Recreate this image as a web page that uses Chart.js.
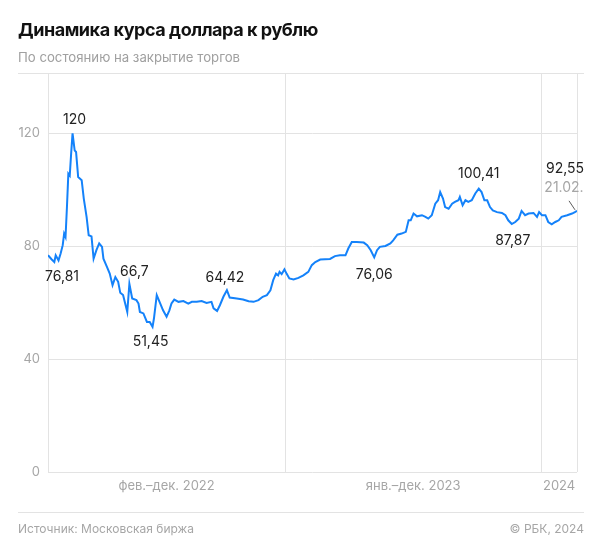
<!DOCTYPE html>
<html lang="ru">
<head>
<meta charset="utf-8">
<title>Динамика курса доллара к рублю</title>
<script src="https://cdn.jsdelivr.net/npm/chart.js@4.4.1/dist/chart.umd.min.js"></script>
<style>
  body { margin: 0; background: #fff; font-family: "Inter", "Roboto", sans-serif; }
  #wrap { position: relative; width: 600px; height: 555px; overflow: hidden; }
  #wrap canvas { position: absolute; left: 0; top: 0; }
  .title { position: absolute; left: 18px; top: 19px; font-size: 18px; line-height: 22px; font-weight: 700; color: #111; letter-spacing: -0.45px; }
  .sub { position: absolute; left: 18px; top: 49px; font-size: 13.2px; line-height: 16px; color: #a0a0a0; }
  .rule { position: absolute; left: 18px; width: 566px; height: 1px; background: #e3e3e3; }
  .foot { position: absolute; top: 521px; font-size: 12px; line-height: 15px; color: #a6a6a6; }
</style>
</head>
<body>
<div id="wrap">
  <canvas id="chart" width="600" height="555"></canvas>
  <div class="title">Динамика курса доллара к рублю</div>
  <div class="sub">По состоянию на закрытие торгов</div>
  <div class="rule" style="top:73px"></div>
  <div class="rule" style="top:512px"></div>
  <div class="foot" style="left:18px">Источник: Московская биржа</div>
  <div class="foot" style="right:16px">© РБК, 2024</div>
</div>
<script>
// дни с 01.01.2022
const days = [
  27, 32, 36, 38, 42, 45, 48, 50, 52, 54, 56, 58, 60, 62, 65, 67, 70, 75, 78, 82,
  85, 89, 92, 96, 100, 104, 106, 111, 115, 119, 123, 127, 130, 134, 137, 140, 143, 147, 153, 156,
  158, 163, 168, 172, 176, 178, 182, 186, 191, 196, 200, 203, 207, 213, 220, 227, 232, 239, 246, 253,
  260, 263, 268, 272, 277, 282, 286, 296, 305, 313, 320, 327, 333, 339, 344, 348, 352, 355, 357, 360,
  364, 367, 371, 377, 384, 391, 398, 403, 408, 415, 422, 429, 436, 443, 451, 455, 460, 467, 477, 482,
  487, 492, 496, 500, 508, 515, 519, 525, 531, 537, 541, 544, 548, 553, 560, 565, 569, 574, 579, 583,
  586, 590, 593, 598, 603, 607, 612, 614, 618, 622, 626, 631, 636, 641, 645, 649, 653, 657, 661, 667,
  674, 679, 683, 688, 693, 698, 702, 707, 712, 719, 724, 727, 731, 736, 740, 745, 750, 755, 759, 767,
  774, 778, 781
];
const usdRub = [
  76.81, 75.4, 74.4, 76.8, 75.0, 77.4, 80.4, 84.5, 83.3, 93.9, 105.7, 105.0, 112.9, 120.0, 114.0, 113.4, 104.5, 103.4, 96.9, 90.4,
  83.9, 83.5, 75.6, 78.6, 81.0, 79.8, 75.6, 72.7, 70.3, 66.2, 69.1, 67.4, 63.5, 62.7, 59.7, 56.7, 66.7, 61.5, 60.9, 59.7,
  56.7, 56.2, 53.2, 53.2, 51.45, 54.4, 62.7, 60.3, 57.3, 55.0, 57.3, 59.7, 61.1, 60.3, 60.6, 59.7, 60.3, 60.3, 60.6, 59.9,
  60.3, 58.0, 57.1, 59.1, 62.1, 64.42, 61.8, 61.5, 61.1, 60.5, 60.3, 60.9, 62.1, 62.7, 64.4, 68.0, 70.3, 69.7, 70.9, 70.1,
  71.8, 70.3, 68.6, 68.2, 68.8, 69.7, 70.9, 73.3, 74.4, 75.3, 75.4, 75.5, 76.5, 76.8, 76.8, 79.2, 81.5, 81.5, 81.3, 80.4,
  78.6, 76.06, 78.6, 79.8, 80.1, 81.0, 82.1, 84.1, 84.5, 85.1, 89.2, 89.2, 91.6, 90.6, 91.0, 90.4, 89.8, 91.0, 95.1, 96.3,
  99.2, 96.9, 93.9, 93.3, 95.1, 95.7, 96.3, 97.5, 94.5, 96.3, 95.7, 96.3, 98.7, 100.41, 99.2, 96.3, 96.3, 93.9, 92.7, 92.1,
  91.8, 91.0, 89.2, 87.87, 88.6, 89.8, 92.5, 91.0, 91.6, 91.8, 90.4, 92.1, 91.0, 91.0, 88.6, 87.8, 88.6, 89.2, 90.4, 91.0,
  91.6, 92.1, 92.55
];

// подписи периодов и их границы
const periodLabels = ["фев.–дек. 2022", "янв.–дек. 2023", "2024"];
const periodBounds = ["2022-01-28", "2023-01-01", "2024-01-01", "2024-02-21"];
const yTicks = [0, 40, 80, 120];

// подписанные точки
const markDays = [62, 27, 143, 176, 282, 492, 641, 688, 781];
const markTexts = ["120", "76,81", "66,7", "51,45", "64,42", "76,06", "100,41", "87,87", "92,55"];
const lastDateText = "21.02.";

// смещения подписей от точек (px)
const markOffsets = [[2, -14], [14, 22], [5, -12], [-2, 15], [-2, -12], [0, 17], [0, -15], [1, 17], [-12, -42]];

function dayOf(s) {
  return Math.round((Date.parse(s) - Date.UTC(2022, 0, 1)) / 86400000);
}
const boundDays = periodBounds.map(dayOf);

const FONT = '"Inter", "Roboto", sans-serif';

const labelsPlugin = {
  id: "labels",
  afterDraw(chart) {
    const ctx = chart.ctx;
    const xs = chart.scales.x, ys = chart.scales.y;
    ctx.save();
    // подписи периодов по оси X
    ctx.font = "13px " + FONT;
    ctx.fillStyle = "#a6a6a6";
    ctx.textAlign = "center";
    ctx.textBaseline = "middle";
    periodLabels.forEach((t, i) => {
      const x = (xs.getPixelForValue(boundDays[i]) + xs.getPixelForValue(boundDays[i + 1])) / 2;
      ctx.fillText(t, x, 486);
    });
    // значения
    ctx.font = "14px " + FONT;
    ctx.fillStyle = "#222";
    markDays.forEach((d, i) => {
      const v = usdRub[days.indexOf(d)];
      const px = xs.getPixelForValue(d) + markOffsets[i][0];
      const py = ys.getPixelForValue(v) + markOffsets[i][1];
      ctx.fillText(markTexts[i], px, py);
    });
    // дата последнего значения и выноска
    const lx = xs.getPixelForValue(days[days.length - 1]);
    const ly = ys.getPixelForValue(usdRub[usdRub.length - 1]);
    ctx.fillStyle = "#a6a6a6";
    ctx.fillText(lastDateText, lx - 13, ly - 23);
    ctx.strokeStyle = "#333";
    ctx.lineWidth = 0.8;
    ctx.beginPath();
    ctx.moveTo(lx - 8, ly - 10);
    ctx.lineTo(lx - 2, ly - 1);
    ctx.stroke();
    ctx.restore();
  }
};

new Chart(document.getElementById("chart"), {
  type: "line",
  data: {
    datasets: [{
      data: days.map((d, i) => ({ x: d, y: usdRub[i] })),
      borderColor: "#1482fa",
      borderWidth: 2,
      pointRadius: 0,
      tension: 0,
      fill: false
    }]
  },
  options: {
    responsive: false,
    animation: false,
    devicePixelRatio: 1,
    layout: { padding: { left: 0, right: 23, top: 73, bottom: 83 } },
    plugins: { legend: { display: false }, tooltip: { enabled: false } },
    scales: {
      x: {
        type: "linear",
        min: boundDays[0],
        max: boundDays[boundDays.length - 1],
        afterBuildTicks: (s) => { s.ticks = boundDays.map((v) => ({ value: v })); },
        afterFit: (s) => { s.height = 0; },
        ticks: { display: false },
        grid: { color: "#e3e3e3", drawTicks: false },
        border: { display: false }
      },
      y: {
        min: 0,
        max: 141.4,
        afterBuildTicks: (s) => { s.ticks = yTicks.map((v) => ({ value: v })); },
        afterFit: (s) => { s.width = 48; },
        ticks: { color: "#a6a6a6", font: { family: FONT, size: 13 }, padding: 8 },
        grid: { color: "#e3e3e3", drawTicks: false },
        border: { display: false }
      }
    }
  },
  plugins: [labelsPlugin]
});
</script>
</body>
</html>
